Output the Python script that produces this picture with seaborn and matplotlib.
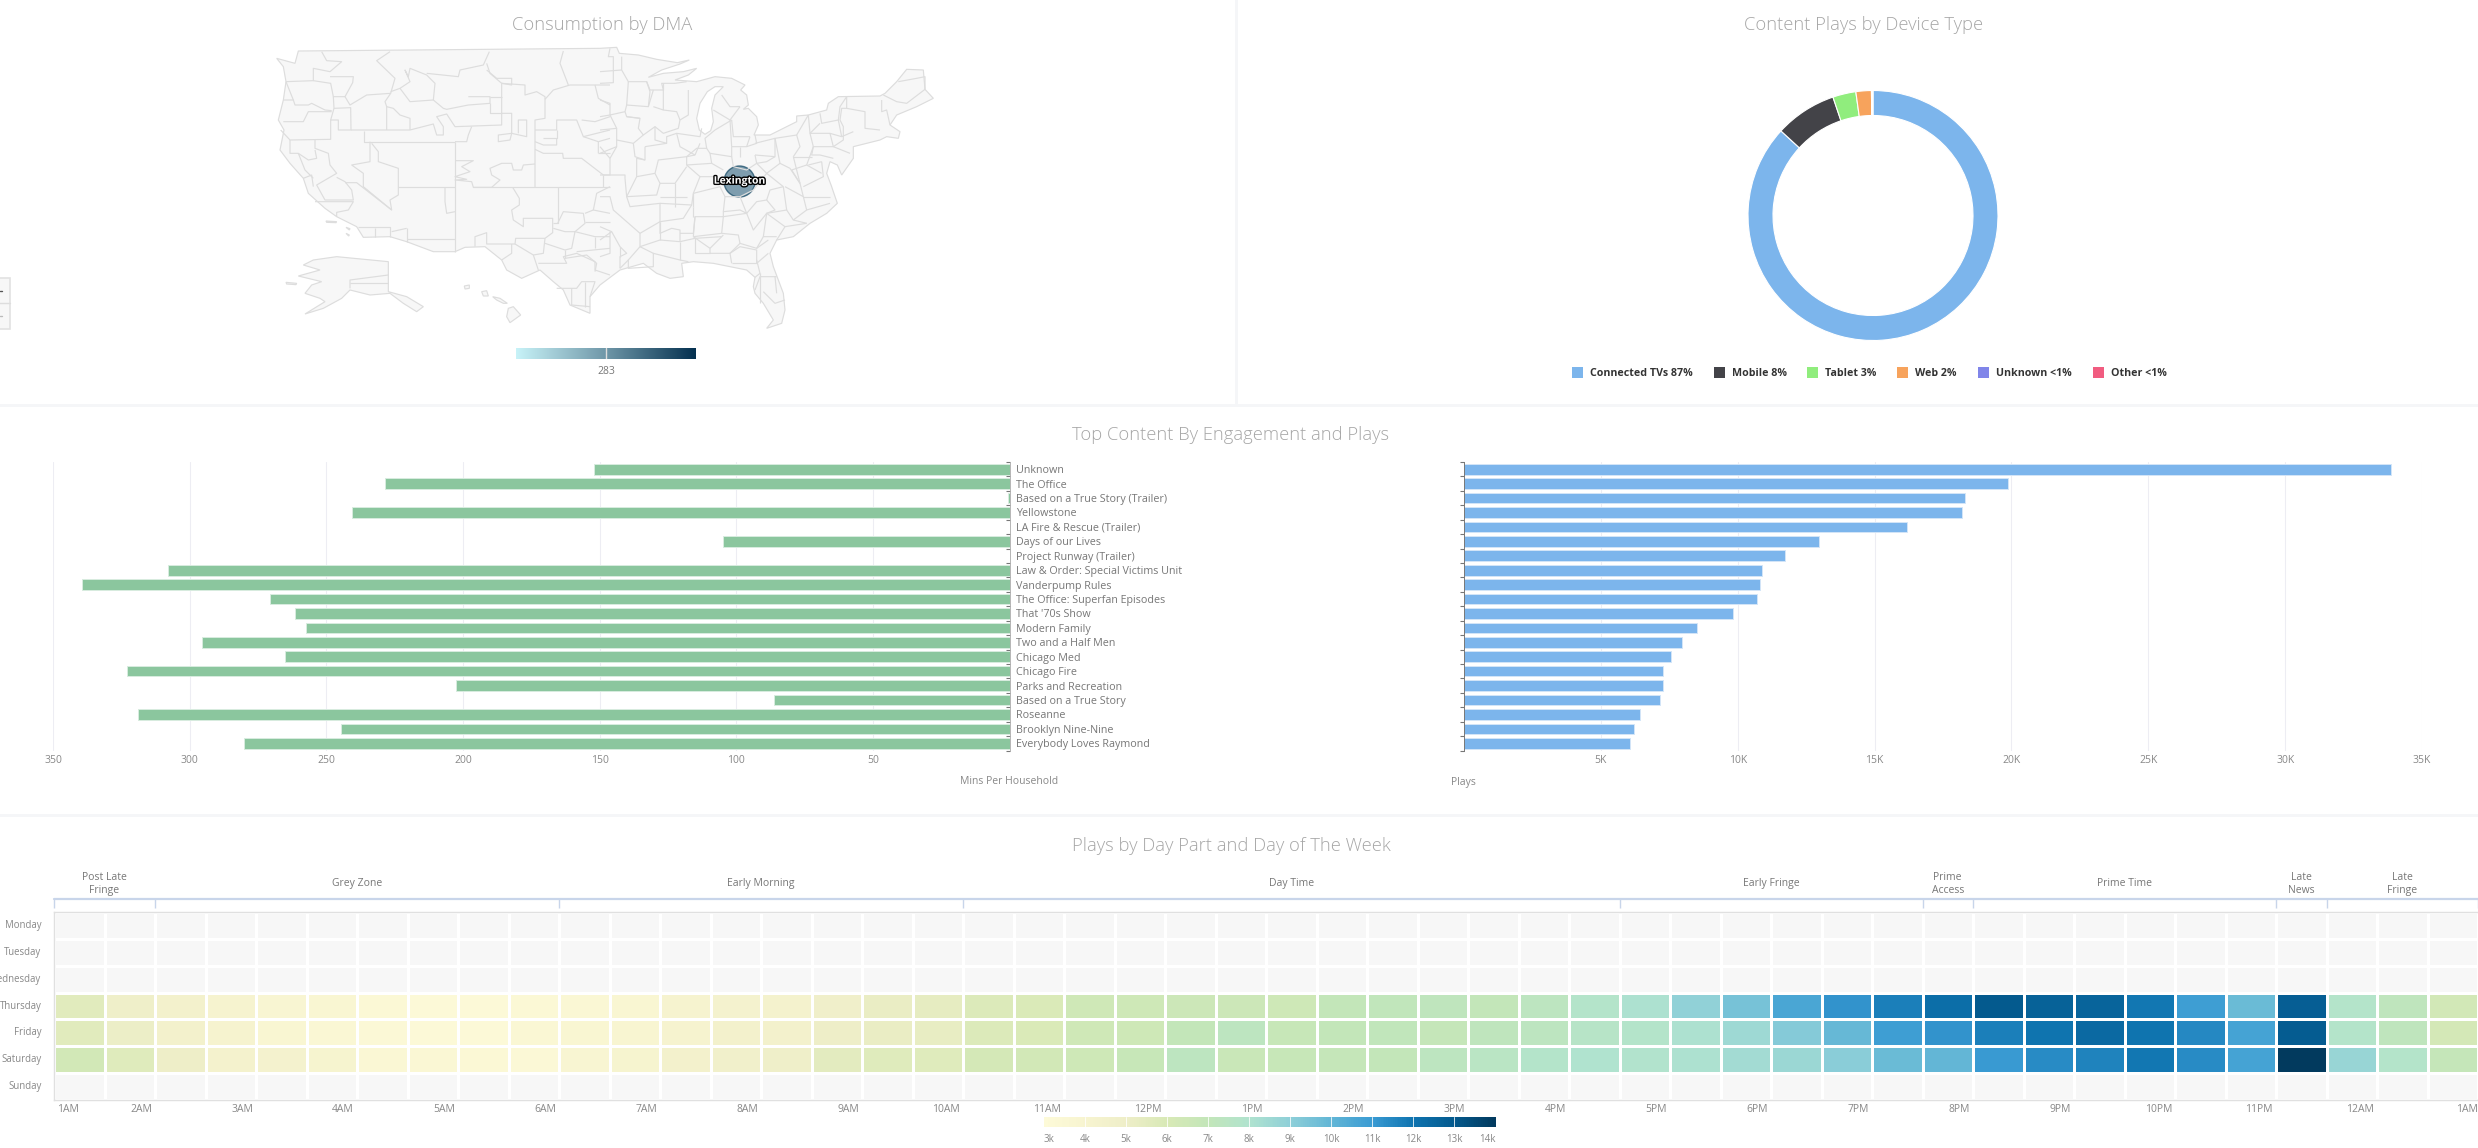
import numpy as np
import pandas as pd
import matplotlib
matplotlib.use("Agg")
import matplotlib.pyplot as plt
import matplotlib.patheffects as pe
from matplotlib.collections import LineCollection
from matplotlib.colors import LinearSegmentedColormap, ListedColormap
from matplotlib.patches import Polygon, Rectangle
from matplotlib.transforms import ScaledTranslation
import seaborn as sns

W, H = 2478, 1148

# ---- chart data ----
TITLES = ["Unknown", "The Office", "Based on a True Story (Trailer)", "Yellowstone",
          "LA Fire & Rescue (Trailer)", "Days of our Lives", "Project Runway (Trailer)",
          "Law & Order: Special Victims Unit", "Vanderpump Rules", "The Office: Superfan Episodes",
          "That '70s Show", "Modern Family", "Two and a Half Men", "Chicago Med", "Chicago Fire",
          "Parks and Recreation", "Based on a True Story", "Roseanne", "Brooklyn Nine-Nine",
          "Everybody Loves Raymond"]
MINS_PER_HH = [152, 228.4, 0.5, 240.6, 0, 105, 0, 307.8, 339.3, 270.7,
               261.4, 257.4, 295.3, 265.2, 322.8, 202.4, 86, 319, 244.6, 280]
PLAYS = [33870, 19880, 18320, 18180, 16180, 12980, 11730, 10870, 10810, 10720,
         9830, 8530, 7980, 7570, 7280, 7280, 7170, 6420, 6210, 6070]

DEVICES = ["Connected TVs 87%", "Mobile 8%", "Tablet 3%", "Web 2%", "Unknown <1%", "Other <1%"]
DEVICE_SHARE = [87, 8, 3, 2, 0.1, 0.1]
DEVICE_COLORS = ["#7cb5ec", "#434348", "#90ed7d", "#f7a35c", "#8085e9", "#f15c80"]

DAYS = ["Monday", "Tuesday", "Wednesday", "Thursday", "Friday", "Saturday", "Sunday"]
HOURS = ["1AM", "2AM", "3AM", "4AM", "5AM", "6AM", "7AM", "8AM", "9AM", "10AM", "11AM", "12PM",
         "1PM", "2PM", "3PM", "4PM", "5PM", "6PM", "7PM", "8PM", "9PM", "10PM", "11PM", "12AM", "1AM"]
DAY_PARTS = ["Post Late\nFringe", "Grey Zone", "Early Morning", "Day Time", "Early Fringe",
             "Prime\nAccess", "Prime Time", "Late\nNews", "Late\nFringe"]
DAY_PART_CELLS = [2, 8, 8, 13, 6, 1, 6, 1, 3]

# half hour cells, thousands of plays
THURSDAY = [5.6, 4.9, 4.5, 4.2, 3.8, 3.7, 3.4, 3.2, 3.2, 3.4, 3.6, 3.7, 4.2, 4.3, 4.4, 4.8,
            5.2, 5.4, 5.8, 5.9, 6.4, 6.5, 6.6, 6.6, 6.5, 7.0, 7.1, 7.2, 7.0, 7.3, 7.8, 8.1,
            8.9, 9.5, 10.6, 11.2, 11.7, 12.2, 13.0, 12.7, 12.6, 11.9, 10.9, 9.8, 12.8, 7.8, 7.2, 6.3]
FRIDAY = [5.6, 5.1, 4.5, 4.2, 3.7, 3.6, 3.3, 3.2, 3.2, 3.5, 3.7, 3.9, 4.2, 4.5, 4.5, 5.0,
          5.2, 5.3, 5.8, 5.9, 6.4, 6.5, 7.0, 7.3, 6.8, 7.0, 7.1, 6.9, 7.2, 7.3, 7.6, 7.8,
          8.1, 8.5, 9.2, 9.9, 10.9, 11.2, 11.7, 12.0, 12.4, 12.0, 11.5, 10.7, 12.9, 7.8, 7.2, 6.2]
SATURDAY = [6.3, 5.7, 5.0, 4.4, 4.3, 4.1, 3.6, 3.5, 3.4, 3.3, 3.8, 4.1, 4.5, 4.7, 4.9, 5.5,
            5.7, 5.7, 6.2, 6.3, 6.5, 6.8, 7.3, 6.7, 6.8, 6.9, 7.0, 7.3, 7.5, 7.8, 8.0, 7.9,
            8.1, 8.4, 8.6, 9.1, 9.8, 10.0, 11.0, 11.4, 11.6, 11.9, 11.4, 10.7, 14.0, 8.7, 7.8, 6.9]
HEAT_STOPS = ["#fdfad8", "#f7f4d0", "#eeeec8", "#d8e9b6", "#c3e6b9", "#b0e3cf",
              "#8ecfd8", "#62b6d6", "#3a9bd3", "#0f74b0", "#045a8e", "#023a5e"]

DMA_NAME = "Lexington"
DMA_VALUE = 283

# ---- map shapes (crop coords, see west/east below) ----
US_EAST = [(0, 25), (50, 22), (58, 40), (115, 45), (170, 58), (232, 68), (268, 60), (240, 72), (185, 90),
           (145, 112), (190, 100), (250, 95), (290, 85), (265, 105), (225, 120), (290, 125), (345, 110),
           (395, 115), (435, 135), (422, 150), (440, 165), (445, 195), (430, 208), (445, 205), (470, 230),
           (475, 255), (462, 285), (510, 285), (590, 245), (590, 228), (625, 225), (680, 210), (685, 190),
           (715, 170), (840, 168), (855, 160), (890, 125), (920, 88), (970, 90), (975, 148), (1000, 175),
           (950, 200), (890, 225), (870, 255), (900, 275), (895, 295), (860, 290), (840, 300), (760, 320),
           (760, 355), (725, 405), (712, 375), (690, 365), (680, 400), (695, 440), (700, 455), (712, 490),
           (680, 520), (630, 550), (580, 590), (530, 600), (510, 640), (520, 680), (550, 760), (555, 810),
           (545, 850), (500, 865), (520, 840), (490, 790), (465, 760), (460, 740), (465, 712), (440, 690),
           (390, 680), (340, 670), (280, 665), (245, 670), (250, 710), (210, 715), (170, 700), (130, 670),
           (60, 690), (0, 735)]
US_WEST = [(960, 770), (960, 820), (900, 795), (880, 750), (850, 725), (810, 690), (755, 715), (710, 690),
           (695, 660), (645, 620), (585, 622), (555, 635), (490, 635), (410, 605), (360, 590), (280, 592),
           (260, 560), (200, 530), (165, 505), (115, 460), (100, 415), (60, 370), (30, 330), (42, 270),
           (25, 240), (40, 180), (48, 125), (40, 80), (20, 55), (75, 70), (85, 33)]
LAKE_MICHIGAN = [(345, 165), (335, 205), (340, 245), (332, 272), (315, 283), (298, 270), (290, 235),
                 (300, 190), (322, 155), (345, 140), (370, 140)]
ALASKA = [(130, 660), (200, 650), (355, 665), (355, 755), (410, 770), (460, 800), (440, 815), (400, 790),
          (360, 760), (300, 765), (240, 750), (215, 775), (160, 805), (105, 822), (165, 785), (150, 775),
          (105, 760), (125, 735), (155, 725), (85, 708), (150, 690), (100, 675)]
ISLANDS = [[(715, 805), (730, 800), (752, 825), (720, 848), (710, 830)],
           [(635, 755), (650, 752), (655, 768), (640, 768)],
           [(668, 770), (690, 775), (712, 790), (700, 790), (680, 780)],
           [(583, 738), (598, 735), (598, 745), (585, 747)],
           [(48, 727), (80, 730), (78, 734), (50, 732)],
           [(168, 543), (200, 545), (198, 548), (170, 547)],
           [(228, 562), (240, 566), (238, 570)], [(228, 580), (238, 585), (236, 588)]]
DMA_WEST = [
    [(48, 125), (130, 122), (130, 85), (180, 95), (215, 65), (170, 62), (155, 35)],
    [(130, 122), (182, 130), (190, 170), (225, 170), (248, 128), (250, 110), (180, 110)],
    [(190, 170), (192, 205), (242, 203), (243, 270), (205, 270), (205, 240), (182, 240), (182, 298), (60, 300), (32, 270)],
    [(40, 180), (70, 180), (75, 195), (115, 195), (125, 190), (165, 210), (185, 212)],
    [(40, 245), (100, 245), (115, 215), (185, 215)],
    [(225, 170), (240, 195), (290, 165), (362, 160), (375, 115), (320, 62), (360, 35)],
    [(362, 160), (345, 185), (350, 200), (350, 270)],
    [(243, 270), (420, 270), (490, 252), (500, 285), (520, 285), (520, 260), (500, 230), (530, 222), (555, 260), (695, 255), (695, 130)],
    [(420, 270), (420, 235), (390, 225), (370, 205), (350, 200)],
    [(390, 145), (420, 185), (490, 180), (495, 130), (470, 105), (420, 85), (415, 110), (405, 90), (420, 125), (390, 145), (362, 155)],
    [(470, 100), (565, 110), (570, 90), (640, 75), (658, 35)],
    [(490, 180), (520, 205), (530, 208), (595, 195), (660, 190), (660, 170), (595, 170)],
    [(660, 170), (695, 170)], [(660, 190), (660, 220), (695, 220)],
    [(695, 130), (660, 100), (650, 70)],
    [(650, 90), (680, 115), (725, 115), (725, 135), (695, 130)],
    [(695, 130), (765, 135), (765, 165), (800, 155), (825, 170), (825, 235), (795, 240), (795, 442)],
    [(825, 178), (850, 150), (900, 135), (1020, 135)], [(895, 135), (870, 70), (880, 33)],
    [(695, 220), (725, 220), (725, 280), (685, 285), (685, 305), (720, 300), (725, 280), (770, 290), (770, 240), (745, 240), (745, 280)],
    [(555, 305), (590, 305), (595, 285), (605, 260)],
    [(555, 305), (555, 635)],
    [(283, 272), (283, 305), (555, 305)],
    [(300, 305), (300, 365), (245, 375), (280, 400), (280, 440), (365, 510), (360, 480), (385, 465), (385, 385), (325, 365), (325, 335), (305, 310)],
    [(385, 442), (555, 442)],
    [(555, 362), (610, 362), (575, 380), (600, 395), (555, 410), (590, 418), (555, 420), (605, 425), (610, 442), (665, 442), (690, 420), (665, 405), (660, 385), (695, 370), (725, 370), (730, 390), (755, 390), (760, 375), (795, 372)],
    [(525, 442), (525, 485), (530, 520), (555, 515)],
    [(728, 442), (748, 475), (748, 495), (725, 510), (730, 540), (760, 560), (760, 535), (848, 535), (848, 578), (825, 595), (737, 595), (735, 612), (650, 612), (650, 578), (615, 590), (615, 620)],
    [(863, 442), (863, 550), (848, 550)],
    [(725, 612), (725, 640), (695, 660)],
    [(795, 328), (820, 340), (878, 340), (880, 355), (935, 355), (1000, 405), (1020, 405)],
    [(610, 442), (1020, 442)],
    [(795, 270), (860, 270), (860, 240), (920, 240), (940, 290), (985, 305), (985, 340)],
    [(820, 295), (860, 295), (860, 270)], [(795, 305), (820, 315), (860, 315), (860, 295)],
    [(410, 565), (410, 605)], [(410, 597), (555, 597)], [(365, 575), (410, 565)],
    [(265, 562), (360, 562), (360, 590)], [(315, 565), (315, 590)],
    [(60, 300), (60, 340), (85, 340), (105, 390), (130, 415)],
    [(135, 300), (135, 325), (175, 340), (180, 375), (200, 400), (140, 435), (165, 480), (250, 480), (245, 450), (225, 425), (200, 412)],
    [(225, 428), (260, 428), (365, 510)], [(135, 485), (250, 485), (235, 510), (200, 517), (200, 530)],
    [(85, 340), (115, 360), (140, 355), (135, 330)], [(100, 415), (125, 405), (130, 440)],
    [(735, 612), (790, 645), (805, 690)], [(805, 670), (890, 670), (880, 650), (920, 640), (975, 665), (975, 690), (1020, 705)],
    [(825, 595), (820, 640), (790, 645)],
    [(863, 550), (880, 515), (940, 520), (945, 550), (915, 575), (905, 625), (885, 630), (825, 610)],
    [(850, 565), (885, 575), (915, 575)], [(945, 545), (1020, 545)],
    [(1020, 520), (970, 510), (980, 460), (1020, 440)],
    [(860, 745), (920, 745), (935, 725), (975, 725), (960, 770)],
    [(905, 745), (905, 795), (960, 800)], [(945, 725), (945, 800)],
    [(920, 635), (1020, 625)], [(885, 655), (950, 645), (980, 670), (975, 695)],
    [(240, 745), (240, 720), (355, 705)], [(240, 730), (300, 730), (355, 730)],
    [(985, 340), (1020, 340)], [(1000, 405), (1000, 440)], [(940, 290), (1020, 270)],
    [(935, 240), (975, 245), (1020, 230)], [(975, 135), (985, 175), (1020, 195)], [(1020, 295), (985, 305)],
    [(915, 575), (975, 590), (1020, 590)], [(885, 630), (885, 655)], [(975, 590), (975, 625)],
    [(70, 180), (48, 125)], [(192, 205), (182, 240)], [(970, 510), (945, 520)],
]
DMA_EAST = [
    [(0, 130), (40, 128), (40, 50), (25, 50), (30, 25)],
    [(65, 50), (65, 90), (85, 125), (140, 125), (150, 150), (190, 150), (185, 130), (225, 130)],
    [(0, 180), (30, 190), (30, 225), (0, 230)],
    [(30, 225), (75, 215), (80, 195), (145, 200), (160, 150)],
    [(80, 230), (120, 235), (115, 265), (130, 285), (165, 260), (190, 280), (235, 265), (240, 240), (265, 225), (265, 150)],
    [(190, 150), (190, 210), (230, 215), (240, 240)],
    [(30, 225), (50, 265), (0, 270)],
    [(50, 265), (50, 320), (30, 355), (30, 405), (0, 405)],
    [(50, 300), (100, 310), (130, 285)],
    [(135, 320), (200, 310), (200, 290), (230, 280), (300, 290), (305, 265)],
    [(135, 320), (135, 360), (110, 355), (110, 410), (165, 400), (175, 360), (260, 350), (285, 345), (300, 310)],
    [(30, 405), (75, 405), (75, 415), (80, 470), (170, 465), (180, 430)],
    [(0, 470), (30, 470), (40, 510), (80, 545), (120, 580), (120, 620)],
    [(80, 470), (90, 500), (180, 490), (180, 545), (250, 535), (275, 495), (280, 460), (360, 440), (375, 470), (420, 470), (460, 450)],
    [(260, 375), (335, 370), (330, 340), (395, 350), (395, 320), (440, 320), (470, 310), (465, 285)],
    [(320, 325), (315, 295), (345, 270)],
    [(340, 210), (390, 240), (420, 200)],
    [(395, 240), (400, 290), (450, 290)],
    [(260, 350), (260, 375), (300, 410), (350, 410)],
    [(300, 410), (280, 460)],
    [(180, 430), (225, 430), (260, 380)],
    [(0, 560), (35, 575), (60, 620), (80, 640), (60, 650), (60, 685)],
    [(120, 620), (180, 600), (240, 605), (240, 570), (215, 565), (180, 580), (180, 545)],
    [(240, 580), (280, 580), (285, 530), (370, 530), (370, 515), (420, 510), (440, 520), (470, 485), (500, 480), (510, 450), (550, 440)],
    [(280, 500), (280, 530)],
    [(370, 530), (365, 580), (415, 585), (420, 610), (470, 625), (490, 590), (530, 590)],
    [(285, 595), (365, 590)],
    [(280, 590), (330, 625), (330, 640), (390, 640), (395, 670)],
    [(120, 620), (85, 660), (85, 685), (160, 680), (160, 640), (240, 660), (265, 665)],
    [(390, 640), (420, 620), (470, 630), (470, 670), (505, 640)],
    [(470, 660), (480, 700), (465, 712)],
    [(465, 750), (480, 710), (530, 710)],
    [(490, 755), (525, 790), (555, 780)],
    [(440, 520), (460, 570), (500, 520), (555, 560), (530, 600)],
    [(500, 520), (560, 510), (580, 540), (620, 550)],
    [(555, 440), (610, 470), (600, 430), (575, 390), (620, 375), (665, 400)],
    [(460, 450), (500, 400), (540, 370), (570, 385)],
    [(465, 345), (525, 350), (525, 295), (590, 285), (600, 320), (580, 350)],
    [(590, 285), (625, 225)],
    [(625, 225), (630, 280), (690, 280), (725, 290), (760, 275)],
    [(660, 220), (665, 250), (715, 240), (720, 200), (740, 170)],
    [(740, 170), (740, 205), (795, 215), (795, 265), (840, 270)],
    [(845, 180), (845, 215), (860, 210), (870, 255)],
    [(740, 205), (725, 205), (720, 240), (730, 260), (730, 300), (700, 320), (640, 320), (635, 345), (660, 345), (700, 355)],
    [(700, 320), (750, 340)],
    [(625, 375), (665, 365)],
    [(665, 365), (670, 410), (610, 440)],
    [(610, 470), (690, 470)],
    [(580, 540), (620, 510), (690, 490)],
    [(635, 350), (580, 350)],
    [(850, 165), (890, 185), (920, 190), (975, 148)],
    [(895, 125), (950, 115), (975, 110), (975, 148)],
    # smaller markets filling in the middle of the country
    [(140, 125), (150, 155), (145, 200)], [(190, 130), (190, 150)], [(225, 130), (260, 125)], [(160, 200), (190, 210)],
    [(65, 90), (0, 95)], [(85, 125), (80, 195)], [(120, 235), (80, 230), (75, 215)],
    [(0, 320), (30, 355)], [(50, 320), (0, 340)], [(100, 310), (105, 350), (135, 360)],
    [(165, 260), (165, 300), (200, 310)], [(230, 280), (240, 320), (285, 345)],
    [(260, 350), (290, 325), (320, 325), (330, 340)], [(335, 370), (370, 390)],
    [(395, 350), (400, 380), (440, 390), (470, 370), (500, 365), (525, 350)], [(465, 345), (470, 370)], [(420, 320), (420, 350)],
    [(110, 410), (80, 470)], [(165, 400), (180, 430)], [(180, 470), (260, 470)], [(225, 430), (225, 500)], [(280, 460), (280, 500)],
    [(180, 490), (275, 495)], [(180, 545), (120, 580)], [(180, 600), (180, 545)],
    [(285, 530), (280, 590)], [(370, 530), (440, 520)], [(365, 580), (280, 590)], [(420, 470), (440, 520)], [(375, 470), (370, 515)],
    [(285, 595), (285, 640), (330, 640)], [(60, 620), (60, 650)], [(30, 575), (30, 640), (0, 650)],
    [(85, 660), (60, 685)], [(160, 640), (120, 620)], [(240, 605), (285, 595)], [(240, 605), (240, 660)],
    [(330, 625), (370, 585)], [(420, 610), (390, 640)], [(470, 625), (505, 600)], [(395, 670), (470, 670)],
    [(500, 480), (525, 510), (500, 520)], [(550, 440), (560, 510)], [(610, 470), (620, 510)],
    [(500, 400), (550, 440)], [(570, 385), (600, 430)], [(620, 375), (640, 320)],
    [(525, 295), (540, 370)], [(580, 350), (600, 430)], [(630, 280), (640, 320)], [(690, 280), (700, 320)],
    [(660, 250), (630, 280)], [(715, 240), (725, 290)], [(465, 310), (525, 295)], [(470, 370), (500, 400)],
    [(345, 270), (395, 240)], [(390, 240), (395, 320)], [(450, 290), (440, 320)], [(365, 165), (390, 200), (420, 200)],
    [(480, 700), (480, 790)], [(525, 710), (530, 760)], [(500, 520), (490, 590)], [(555, 560), (620, 550)], [(35, 575), (0, 600)],
]


def west(pts):
    return [(270 + x / 3, 40 + y / 3) for x, y in pts]


def east(pts):
    return [(600 + x / 3, 40 + y / 3) for x, y in pts]


def px_axes(x0, y0, x1, y1, **kw):
    # axes from picture pixels
    return fig.add_axes([x0 / W, 1 - y1 / H, (x1 - x0) / W, (y1 - y0) / H], **kw)


sns.set_theme(style="white")
plt.rcParams["font.family"] = ["Open Sans", "DejaVu Sans"]

fig = plt.figure(figsize=(W / 100, H / 100), dpi=100, facecolor="white")

# full figure layer in pixels, for panel rules, map and free text
canvas = px_axes(0, 0, W, H, zorder=5)
canvas.set_xlim(0, W)
canvas.set_ylim(H, 0)
canvas.axis("off")
canvas.patch.set_alpha(0)


def label(x, y, s, size=8, color="#888888", ha="center", **kw):
    canvas.text(x, y, s, fontsize=size, color=color, ha=ha, va="center", **kw)


# panel rules
for rect in [(1235, 0, 3, 405), (0, 404, W, 3), (0, 814, W, 3)]:
    canvas.add_patch(Rectangle(rect[:2], rect[2], rect[3], color="#f5f6f8", lw=0))

# titles
for x, y, s in [(602, 25, "Consumption by DMA"), (1864, 25, "Content Plays by Device Type"),
                (1231, 435, "Top Content By Engagement and Plays"),
                (1231, 846, "Plays by Day Part and Day of The Week")]:
    label(x, y, s, size=13.2, color="#a6a6a6", fontweight="light")

# map
map_style = dict(facecolor="#f7f7f7", edgecolor="#dddddd", lw=0.85)
canvas.add_patch(Polygon(east(US_EAST) + west(US_WEST), closed=True, **map_style))
canvas.add_patch(Polygon(west(ALASKA), closed=True, **map_style))
for shape in ISLANDS:
    canvas.add_patch(Polygon(west(shape), closed=True, **map_style))
canvas.add_collection(LineCollection([west(p) for p in DMA_WEST] + [east(p) for p in DMA_EAST],
                                     colors="#dddddd", linewidths=0.85))
canvas.add_patch(Polygon(east(LAKE_MICHIGAN), closed=True, facecolor="white", edgecolor="#dddddd", lw=0.85))
lex = east([(418, 422)])[0]
sns.scatterplot(x=[lex[0]], y=[lex[1]], s=(31 * 0.72) ** 2, color="#4f7a92", alpha=0.72,
                edgecolor="#164a66", linewidth=1, ax=canvas, legend=False)
canvas.set_xlim(0, W)
canvas.set_ylim(H, 0)
canvas.text(lex[0], lex[1] + 0.5, DMA_NAME, fontsize=7.5, color="white", fontweight="bold", ha="center", va="center",
            path_effects=[pe.withStroke(linewidth=2, foreground="black")])

# map legend
map_cbar = px_axes(516, 348, 696, 359)
map_cbar.imshow(np.linspace(0, 1, 256)[None, :], aspect="auto", extent=(0, 2 * DMA_VALUE, 0, 1),
                cmap=LinearSegmentedColormap.from_list("dma", ["#c8f3f8", "#6f97a8", "#04304f"]))
map_cbar.axvline(DMA_VALUE, color="#dddddd", lw=1)
map_cbar.axis("off")
label(606, 372, str(DMA_VALUE), size=7.5, color="#777777")

# zoom box at the left edge
canvas.add_patch(Rectangle((-3, 278), 13, 51, facecolor="#f7f7f7", edgecolor="#e2e2e2", lw=1.2))
canvas.plot([-3, 10], [303, 303], color="#dddddd", lw=1)
canvas.plot([0, 1.5], [291, 291], color="#555555", lw=1)
canvas.plot([0, 1.5], [316, 316], color="#bbbbbb", lw=1)

# device donut
ax_pie = px_axes(1873 - 125, 215.5 - 125, 1873 + 125, 215.5 + 125)
ax_pie.pie(DEVICE_SHARE, colors=DEVICE_COLORS, startangle=90, counterclock=False, radius=1,
           wedgeprops=dict(width=0.2, edgecolor="white", linewidth=0.8))
ax_pie.set_xlim(-1, 1)
ax_pie.set_ylim(-1, 1)

# device legend
LEG_SWATCH_X = [1572, 1714, 1807, 1897, 1978, 2093]
for x, name, color in zip(LEG_SWATCH_X, DEVICES, DEVICE_COLORS):
    canvas.add_patch(Rectangle((x, 367), 11, 11, facecolor=color, lw=0))
    label(x + 18, 373, name, size=7.7, color="#333333", ha="left", fontweight="bold")

# top content bars
top = pd.DataFrame({"title": TITLES, "mins": MINS_PER_HH, "plays": PLAYS})
ax_mins = px_axes(53, 462, 1009.5, 750.5)
sns.barplot(data=top, x="mins", y="title", orient="h", color="#8bc69e", saturation=1, width=0.74,
            edgecolor="#d8ecdf", linewidth=0.7, ax=ax_mins)
ax_mins.set_xlim(350, 0)
ax_mins.yaxis.tick_right()

ax_plays = px_axes(1464, 462, 2422, 750.5)
sns.barplot(data=top, x="plays", y="title", orient="h", color="#7cb5ec", saturation=1, width=0.74,
            edgecolor="#d3e5f8", linewidth=0.7, ax=ax_plays)
ax_plays.set_xlim(0, 35000)
ax_plays.set_xticks(range(5000, 35001, 5000), [f"{v // 1000}K" for v in range(5000, 35001, 5000)])
ax_plays.set_yticklabels([])

for ax in (ax_mins, ax_plays):
    ax.set_xlabel("")
    ax.set_ylabel("")
    sns.despine(ax=ax, left=True, bottom=True, right=True, top=True)
    ax.grid(axis="x", color="#ededf3", lw=0.8)
    ax.set_axisbelow(True)
    ax.tick_params(axis="x", length=0, labelsize=7.5, labelcolor="#888888", pad=3.5)
    ax.tick_params(axis="y", which="major", length=0, labelsize=7.75, labelcolor="#777777", pad=5)
    ax.set_yticks(np.arange(-0.5, len(TITLES)), minor=True)
ax_mins.set_xticks(range(50, 351, 50))
ax_mins.spines["right"].set_visible(True)
ax_mins.spines["right"].set_color("#aaaaaa")
ax_mins.spines["right"].set_linewidth(0.6)
ax_mins.tick_params(axis="y", which="minor", direction="in", right=True, left=False, length=3, width=0.8, color="#777777")
ax_plays.spines["left"].set_visible(True)
ax_plays.spines["left"].set_color("#777777")
ax_plays.spines["left"].set_linewidth(0.7)
ax_plays.tick_params(axis="y", which="minor", direction="out", left=True, length=3, width=0.8, color="#777777")
label(1009.5, 782, "Mins Per Household", size=7.5)
label(1463, 782, "Plays", size=7.5)

# day part heatmap
heat = np.full((len(DAYS), 48), np.nan)
heat[3] = THURSDAY
heat[4] = FRIDAY
heat[5] = SATURDAY
heat = pd.DataFrame(heat * 1000, index=DAYS)
heat_cmap = LinearSegmentedColormap.from_list("plays", HEAT_STOPS)

ax_heat = px_axes(54, 912, 2478, 1100)
ax_cbar = px_axes(1044, 1116.5, 1495.5, 1127)
sns.heatmap(np.zeros(heat.shape), cmap=ListedColormap(["#f7f7f7"]), cbar=False, linewidths=1,
            linecolor="white", ax=ax_heat)
sns.heatmap(heat, cmap=heat_cmap, vmin=3000, vmax=14000, linewidths=1, linecolor="white", ax=ax_heat,
            cbar_ax=ax_cbar, cbar_kws=dict(orientation="horizontal"))

ax_heat.set_xticks(np.arange(0, 49, 2), HOURS, rotation=0)
ax_heat.set_yticks(np.arange(len(DAYS)) + 0.5, DAYS, rotation=0)
ax_heat.tick_params(axis="x", length=0, labelsize=7.5, labelcolor="#888888", pad=3)
ax_heat.tick_params(axis="y", length=0, labelsize=6.9, labelcolor="#888888", pad=9)
for i, tl in enumerate(ax_heat.get_xticklabels()):
    tl.set_ha("left" if i == 0 else "right")
    shift = 3 if i == 0 else (0 if i == len(HOURS) - 1 else -3)
    tl.set_transform(tl.get_transform() + ScaledTranslation(shift / 100, 0, fig.dpi_scale_trans))
for side in ("top", "bottom", "left"):
    ax_heat.spines[side].set_visible(True)
    ax_heat.spines[side].set_color("#e0e0e0")
    ax_heat.spines[side].set_linewidth(1)

# colour legend under the heatmap
cbar_ticks = list(range(3000, 14001, 1000))
ax_cbar.set_xticks(cbar_ticks, [f"{v // 1000}k" for v in cbar_ticks])
ax_cbar.tick_params(axis="x", length=0, labelsize=7, labelcolor="#888888", pad=5)
ax_cbar.get_xticklabels()[0].set_ha("left")
ax_cbar.get_xticklabels()[-1].set_ha("right")
for v in cbar_ticks[1:-1]:
    ax_cbar.axvline(v, color="white", lw=0.7, alpha=0.8)
for s in ax_cbar.spines.values():
    s.set_visible(False)

# day part brackets above the heatmap
ax_part = px_axes(54, 899, 2478, 908)
ax_part.set_xlim(0, 48)
ax_part.set_ylim(1, 0)
ax_part.axis("off")
edges = np.cumsum([0] + DAY_PART_CELLS)
ax_part.plot([0, 48], [0, 0], color="#c8d5ea", lw=1.6, clip_on=False)
ax_part.vlines(edges, 0, 1, color="#c8d5ea", lw=1, clip_on=False)
for name, a, b in zip(DAY_PARTS, edges[:-1], edges[1:]):
    ax_part.annotate(name, xy=((a + b) / 2, 0), xytext=(0, 11), textcoords="offset points", ha="center",
                     va="center", fontsize=7.5, color="#777777", linespacing=1.2, annotation_clip=False)

fig.savefig("out.png", dpi=100)
plt.close(fig)
